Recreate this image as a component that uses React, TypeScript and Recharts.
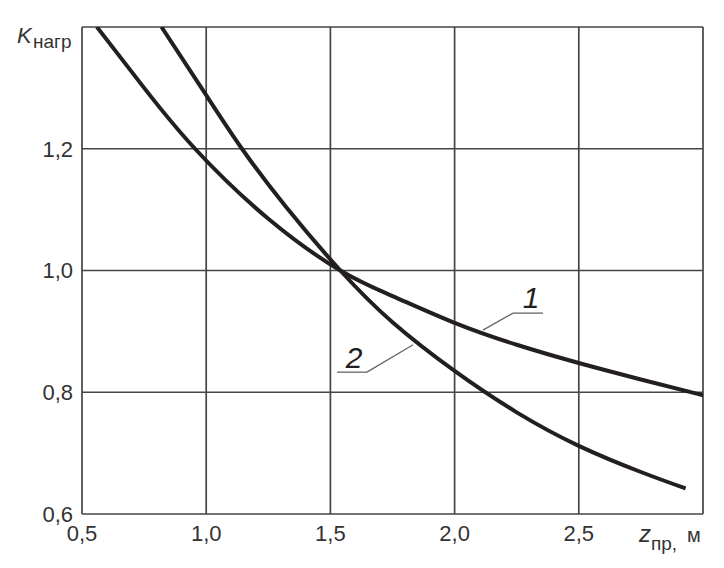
import React from 'react';
import { LineChart, Line, XAxis, YAxis, CartesianGrid, ReferenceLine } from 'recharts';

// curve 1 (flatter) and curve 2 (steeper)
const curve1Z = [0.56, 0.75, 0.955, 1.25, 1.54, 1.75, 2.0, 2.25, 2.5, 2.75, 3.0];
const curve1K = [1.4, 1.3, 1.2, 1.085, 1.0, 0.958, 0.914, 0.878, 0.848, 0.821, 0.795];

const curve2Z = [0.82, 1.0, 1.144, 1.32, 1.54, 1.75, 2.0, 2.25, 2.5, 2.75, 2.93];
const curve2K = [1.4, 1.288, 1.2, 1.105, 1.0, 0.915, 0.835, 0.767, 0.712, 0.669, 0.642];

const xTicks = [0.5, 1.0, 1.5, 2.0, 2.5, 3.0];
const yTicks = [0.6, 0.8, 1.0, 1.2, 1.4];

// leader lines for the curve numbers
const leader1 = [
  { x: 2.114, y: 0.902 },
  { x: 2.235, y: 0.93 },
  { x: 2.356, y: 0.93 },
];
const leader2 = [
  { x: 1.833, y: 0.878 },
  { x: 1.647, y: 0.833 },
  { x: 1.527, y: 0.833 },
];

const toPoints = (zs: number[], ks: number[]) => zs.map((z, i) => ({ z, k: ks[i] }));

const FONT = '"Liberation Sans", Arial, sans-serif';
const INK = '#231f20';
const GRID = '#454545';

const App: React.FC = () => {
  const data1 = toPoints(curve1Z, curve1K);
  const data2 = toPoints(curve2Z, curve2K);

  const fmtX = (v: number) => (v === 3 ? '' : v.toFixed(1).replace('.', ','));
  const fmtY = (v: number) => (v === 1.4 ? '' : v.toFixed(1).replace('.', ','));

  return (
    <div style={{ position: 'absolute', left: 0, top: 0, width: 724, height: 568, background: '#fff' }}>
      <LineChart width={724} height={568} margin={{ top: 27, right: 21, bottom: 0, left: 0 }}>
        <CartesianGrid stroke={GRID} strokeWidth={1.7} horizontalValues={yTicks} verticalValues={xTicks} />
        <XAxis
          dataKey="z"
          type="number"
          domain={[0.5, 3]}
          ticks={xTicks}
          tickFormatter={fmtX}
          axisLine={false}
          tickLine={false}
          tickSize={0}
          tickMargin={11}
          height={54}
          interval={0}
          allowDataOverflow
          tick={{ fill: '#333', fontSize: 22, fontFamily: FONT }}
        />
        <YAxis
          dataKey="k"
          type="number"
          domain={[0.6, 1.4]}
          ticks={yTicks}
          tickFormatter={fmtY}
          axisLine={false}
          tickLine={false}
          tickSize={0}
          tickMargin={9}
          width={82}
          interval={0}
          allowDataOverflow
          tick={{ fill: '#333', fontSize: 22, fontFamily: FONT }}
        />
        <ReferenceLine segment={[leader1[0], leader1[1]]} stroke="#666" strokeWidth={1.3} ifOverflow="visible" />
        <ReferenceLine segment={[leader1[1], leader1[2]]} stroke="#666" strokeWidth={1.3} ifOverflow="visible" />
        <ReferenceLine segment={[leader2[0], leader2[1]]} stroke="#666" strokeWidth={1.3} ifOverflow="visible" />
        <ReferenceLine segment={[leader2[1], leader2[2]]} stroke="#666" strokeWidth={1.3} ifOverflow="visible" />
        <Line
          data={data1}
          dataKey="k"
          type="natural"
          stroke={INK}
          strokeWidth={4}
          dot={false}
          activeDot={false}
          isAnimationActive={false}
        />
        <Line
          data={data2}
          dataKey="k"
          type="natural"
          stroke={INK}
          strokeWidth={4}
          dot={false}
          activeDot={false}
          isAnimationActive={false}
        />
      </LineChart>
      <svg
        width={724}
        height={568}
        style={{ position: 'absolute', left: 0, top: 0, pointerEvents: 'none' }}
        fontFamily={FONT}
        fill="#333"
      >
        <text x={17} y={43} fontSize={22} fontStyle="italic">K</text>
        <text x={33} y={48} fontSize={19}>нагр</text>
        <text x={639} y={542} fontSize={24} fontStyle="italic">z</text>
        <text x={651} y={550} fontSize={19}>пр,</text>
        <text x={687} y={542} fontSize={20}>м</text>
        <text x={531} y={308} fontSize={30} fontStyle="italic" textAnchor="middle" fill={INK}>1</text>
        <text x={354} y={368} fontSize={30} fontStyle="italic" textAnchor="middle" fill={INK}>2</text>
      </svg>
    </div>
  );
};

export default App;
